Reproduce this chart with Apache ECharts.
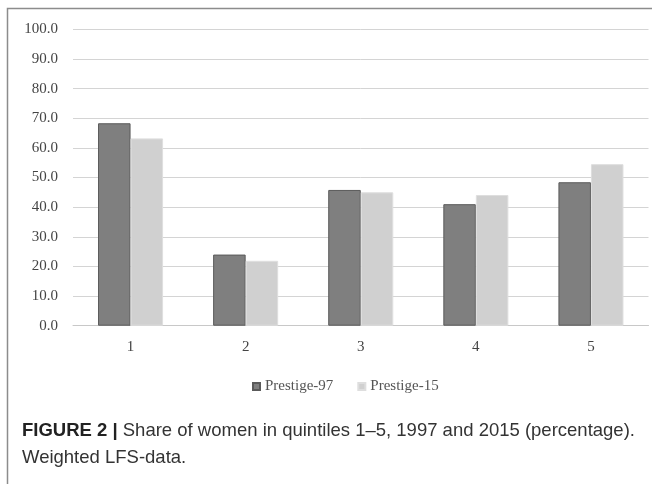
<!DOCTYPE html>
<html>
<head>
<meta charset="utf-8">
<style>
  html, body { margin: 0; padding: 0; background: #ffffff; }
  #chart { width: 652px; height: 484px; }
</style>
<script src="https://cdn.jsdelivr.net/npm/echarts@6/dist/echarts.min.js"></script>
</head>
<body>
<div id="chart"></div>
<script>
// Quintiles on the x axis
const quintiles = ['1', '2', '3', '4', '5'];
// Share of women (%) per quintile
const prestige97 = [68.3, 24.0, 45.8, 41.0, 48.4];
const prestige15 = [63.2, 21.9, 45.0, 44.1, 54.5];
const seriesNames = ['Prestige-97', 'Prestige-15'];
// Value axis range
const yMin = 0;
const yMax = 100;
const yStep = 10;

const captionBold = 'FIGURE 2 |';
const captionLine1 = ' Share of women in quintiles 1\u20135, 1997 and 2015 (percentage).';
const captionLine2 = 'Weighted LFS-data.';

const chart = echarts.init(document.getElementById('chart'), null, { renderer: 'canvas' });

const serif = '"Liberation Serif", "DejaVu Serif", serif';
const sans = '"Liberation Sans", Arial, sans-serif';

chart.setOption({
  animation: false,
  backgroundColor: '#ffffff',
  grid: { left: 73, right: 3.5, top: 29.3, bottom: 158.3, containLabel: false },
  legend: {
    data: seriesNames,
    left: 247,
    top: 374,
    icon: 'rect',
    itemWidth: 7,
    itemHeight: 7,
    itemGap: 24,
    textStyle: { fontFamily: serif, fontSize: 15, color: '#555555' }
  },
  xAxis: {
    type: 'category',
    data: quintiles,
    axisLine: { show: true, lineStyle: { color: '#c8c8c8', width: 1 } },
    axisTick: { show: false },
    axisLabel: { fontFamily: serif, fontSize: 15, color: '#444444', margin: 14 }
  },
  yAxis: {
    type: 'value',
    min: yMin,
    max: yMax,
    interval: yStep,
    axisLine: { show: false },
    axisTick: { show: false },
    splitLine: { lineStyle: { color: '#d4d4d4', width: 1 } },
    axisLabel: {
      fontFamily: serif, fontSize: 15, color: '#444444', margin: 15,
      formatter: v => v.toFixed(1)
    }
  },
  series: [
    {
      name: seriesNames[0],
      type: 'bar',
      data: prestige97,
      barGap: '0%',
      barCategoryGap: '43.5%',
      itemStyle: { color: '#7f7f7f', borderColor: '#5a5a5a', borderWidth: 1 }
    },
    {
      name: seriesNames[1],
      type: 'bar',
      data: prestige15,
      itemStyle: { color: '#d0d0d0', borderColor: '#dedede', borderWidth: 1 }
    }
  ],
  graphic: [
    {
      type: 'polyline',
      shape: { points: [[7.5, 484], [7.5, 8.5], [652, 8.5]] },
      style: { stroke: '#8c8c8c', lineWidth: 1.5, fill: null },
      silent: true
    },
    {
      type: 'text',
      left: 22,
      top: 421,
      style: {
        text: '{b|' + captionBold + '}{n|' + captionLine1 + '}\n{n|' + captionLine2 + '}',
        rich: {
          b: { fontFamily: sans, fontSize: 18.5, fontWeight: 'bold', fill: '#222222', lineHeight: 27 },
          n: { fontFamily: sans, fontSize: 18.5, fill: '#333333', lineHeight: 27 }
        }
      }
    }
  ]
});
</script>
</body>
</html>
